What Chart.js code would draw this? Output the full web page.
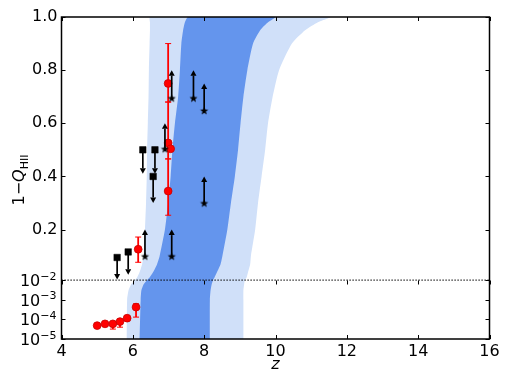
<!DOCTYPE html>
<html>
<head>
<meta charset="utf-8">
<script src="https://cdn.jsdelivr.net/npm/chart.js@4.4.0/dist/chart.umd.min.js"></script>
<style>
  html, body { margin: 0; padding: 0; background: #fff; }
  canvas { display: block; }
</style>
</head>
<body>
<canvas id="reionChart" width="505" height="372"></canvas>
<script>
// 1-Q levels at which the band edges were read, and the z of each edge there
const qLevels    = [1e-5, 1e-3, 0.003, 0.006, 0.01, 0.02, 0.04, 0.07, 0.1, 0.2, 0.3, 0.4, 0.5, 0.6, 0.7, 0.8, 0.9, 0.95, 0.98, 1.0];
const outerLeft  = [5.83, 5.84, 5.88, 5.95, 6.06, 6.12, 6.19, 6.26, 6.30, 6.34, 6.37, 6.39, 6.40, 6.42, 6.44, 6.45, 6.47, 6.48, 6.48, 6.48];
const outerRight = [9.10, 9.10, 9.10, 9.12, 9.14, 9.19, 9.23, 9.29, 9.31, 9.43, 9.51, 9.61, 9.71, 9.79, 9.92, 10.10, 10.46, 10.83, 11.19, 11.53];
const innerLeft  = [6.19, 6.22, 6.24, 6.30, 6.40, 6.47, 6.57, 6.68, 6.75, 6.90, 6.99, 7.06, 7.11, 7.18, 7.27, 7.32, 7.36, 7.41, 7.46, 7.55];
const innerRight = [8.16, 8.16, 8.18, 8.21, 8.25, 8.29, 8.36, 8.46, 8.51, 8.65, 8.75, 8.86, 8.95, 9.02, 9.10, 9.21, 9.37, 9.57, 9.79, 9.99];

// measurements with error bars (red)
const measZ  = [5.00, 5.22, 5.44, 5.64, 5.84, 6.09, 6.15, 6.99, 6.99, 7.06, 6.99];
const measQ  = [4.8e-5, 5.9e-5, 5.9e-5, 7.7e-5, 1.15e-4, 4.2e-4, 0.126, 0.75, 0.526, 0.504, 0.345];
const measLo = [null, null, 3.2e-5, 4.0e-5, null, 1.3e-4, 0.077, 0.68, 0.466, null, 0.254];
const measHi = [null, null, 7.0e-5, 1.0e-4, null, 6.2e-4, 0.172, 0.90, 0.68, null, 0.466];

// upper limits (squares, arrow down)
const upperZ  = [5.56, 5.87, 6.28, 6.62, 6.57];
const upperQ  = [0.095, 0.116, 0.50, 0.50, 0.40];
const upperTo = [0.012, 0.03, 0.41, 0.41, 0.30];

// lower limits (stars, arrow up)
const lowerZ  = [6.34, 6.90, 7.09, 7.70, 8.00, 8.00, 7.09];
const lowerQ  = [0.10, 0.504, 0.695, 0.695, 0.648, 0.30, 0.10];
const lowerTo = [0.20, 0.60, 0.80, 0.80, 0.75, 0.40, 0.20];

const xTicks = [4, 6, 8, 10, 12, 14, 16];
const yTickVals   = [1e-5, 1e-4, 1e-3, 1e-2, 0.2, 0.4, 0.6, 0.8, 1.0];
const yTickLabels = ['10^−5', '10^−4', '10^−3', '10^−2', '0.2', '0.4', '0.6', '0.8', '1.0'];

// y axis: linear above 1e-2, log below (one decade = DEC linear units)
const DEC = 0.0739;
function splitValue(v) {
    return v >= 0.01 ? v : 0.01 + (Math.log10(v) + 2) * DEC;
}
class SplitScale extends Chart.LinearScale {
    getPixelForValue(v) {
        return super.getPixelForValue(splitValue(v));
    }
}
SplitScale.id = 'split';
SplitScale.defaults = {};
Chart.register(SplitScale);

function band(left, right) {
    const pts = left.map((z, i) => ({ x: z, y: qLevels[i] }));
    for (let i = right.length - 1; i >= 0; i--) pts.push({ x: right[i], y: qLevels[i] });
    return pts;
}

function makeStar(r) {
    const s = Math.ceil(r * 2) + 2;
    const c = document.createElement('canvas');
    c.width = s; c.height = s;
    const g = c.getContext('2d');
    g.fillStyle = '#000';
    g.beginPath();
    for (let i = 0; i < 10; i++) {
        const rad = i % 2 ? r * 0.42 : r;
        const a = -Math.PI / 2 + i * Math.PI / 5;
        g.lineTo(s / 2 + rad * Math.cos(a), s / 2 + 0.5 + rad * Math.sin(a));
    }
    g.closePath();
    g.fill();
    return c;
}

function arrow(ctx, x, y0, y1) {
    const dir = Math.sign(y1 - y0), head = 5.5, half = 3;
    ctx.beginPath();
    ctx.moveTo(x, y0);
    ctx.lineTo(x, y1 - dir * head);
    ctx.stroke();
    ctx.beginPath();
    ctx.moveTo(x, y1);
    ctx.lineTo(x - half, y1 - dir * head);
    ctx.lineTo(x + half, y1 - dir * head);
    ctx.closePath();
    ctx.fill();
}

const extras = {
    id: 'extras',
    beforeDatasetDraw(chart, args) {
        const ctx = chart.ctx, xs = chart.scales.x, ys = chart.scales.y;
        ctx.save();
        if (args.index === 3) {
            ctx.strokeStyle = '#ff0000';
            measZ.forEach((z, i) => {
                if (measLo[i] === null) return;
                const px = xs.getPixelForValue(z);
                const lo = ys.getPixelForValue(measLo[i]), hi = ys.getPixelForValue(measHi[i]);
                ctx.lineWidth = 1.8;
                ctx.beginPath(); ctx.moveTo(px, lo); ctx.lineTo(px, hi); ctx.stroke();
                ctx.lineWidth = 1;
                ctx.beginPath();
                ctx.moveTo(px - 3, lo); ctx.lineTo(px + 3, lo);
                ctx.moveTo(px - 3, hi); ctx.lineTo(px + 3, hi);
                ctx.stroke();
            });
        }
        if (args.index === 4 || args.index === 5) {
            ctx.strokeStyle = '#000';
            ctx.fillStyle = '#000';
            ctx.lineWidth = 1.7;
            const zz = args.index === 4 ? upperZ : lowerZ;
            const qq = args.index === 4 ? upperQ : lowerQ;
            const to = args.index === 4 ? upperTo : lowerTo;
            zz.forEach((z, i) => {
                arrow(ctx, xs.getPixelForValue(z), ys.getPixelForValue(qq[i]), ys.getPixelForValue(to[i]));
            });
        }
        ctx.restore();
    },
    afterDatasetsDraw(chart) {
        const ctx = chart.ctx, xs = chart.scales.x, ys = chart.scales.y;
        const { left, right, top, bottom } = chart.chartArea;
        const yb = Math.round(ys.getPixelForValue(0.01)) + 0.5;
        ctx.save();
        ctx.strokeStyle = '#000';
        ctx.lineWidth = 1;
        ctx.beginPath();
        xs.ticks.forEach(t => {
            const px = Math.round(xs.getPixelForValue(t.value)) + 0.5;
            ctx.moveTo(px, bottom); ctx.lineTo(px, bottom - 4);
            ctx.moveTo(px, top); ctx.lineTo(px, top + 4);
            ctx.moveTo(px, yb); ctx.lineTo(px, yb + 4);
        });
        ys.ticks.forEach(t => {
            const py = Math.round(ys.getPixelForValue(t.value)) + 0.5;
            ctx.moveTo(left, py); ctx.lineTo(left + 4, py);
            ctx.moveTo(right, py); ctx.lineTo(right - 4, py);
        });
        ctx.stroke();
        ctx.lineWidth = 1.5;
        ctx.strokeRect(left, top, right - left, bottom - top);
        ctx.restore();
    },
    afterDraw(chart) {
        const ctx = chart.ctx, ys = chart.scales.y;
        const { left, right, top, bottom } = chart.chartArea;
        ctx.save();
        ctx.fillStyle = '#000';
        ctx.textBaseline = 'alphabetic';

        // power-of-ten labels of the log part: base plus raised exponent
        ctx.textAlign = 'left';
        yTickLabels.forEach((lab, i) => {
            if (lab.indexOf('^') < 0) return;
            const [base, exp] = lab.split('^');
            const py = ys.getPixelForValue(yTickVals[i]);
            ctx.font = '11px "DejaVu Sans"';
            const w2 = ctx.measureText(exp).width;
            ctx.font = '16px "DejaVu Sans"';
            const w1 = ctx.measureText(base).width;
            const xEnd = left - 5;
            ctx.fillText(base, xEnd - w2 - w1, py + 6);
            ctx.font = '11px "DejaVu Sans"';
            ctx.fillText(exp, xEnd - w2, py - 0.5);
        });

        ctx.font = 'italic 16px "DejaVu Sans"';
        ctx.textAlign = 'center';
        ctx.fillText('z', (left + right) / 2, 369);

        // 1−Q_HII, rotated
        const parts = [
            { t: '1\u2212', f: '16px "DejaVu Sans"', dy: 0 },
            { t: 'Q', f: 'italic 16px "DejaVu Sans"', dy: 0 },
            { t: 'HII', f: '11px "DejaVu Sans"', dy: 3.5 }
        ];
        let w = 0;
        parts.forEach(p => { ctx.font = p.f; p.w = ctx.measureText(p.t).width; w += p.w; });
        ctx.translate(24, (top + bottom) / 2 + 2);
        ctx.rotate(-Math.PI / 2);
        ctx.textAlign = 'left';
        let x = -w / 2;
        parts.forEach(p => { ctx.font = p.f; ctx.fillText(p.t, x, p.dy); x += p.w; });
        ctx.restore();
    }
};

Chart.defaults.font.family = '"DejaVu Sans"';
Chart.defaults.font.size = 16;
Chart.defaults.color = '#000';

const ctx = document.getElementById('reionChart').getContext('2d');
new Chart(ctx, {
    type: 'scatter',
    data: {
        datasets: [
            {
                data: band(outerLeft, outerRight),
                showLine: true, fill: 'shape', tension: 0.2,
                backgroundColor: '#d0e0f9', borderWidth: 0, pointRadius: 0,
                order: 6
            },
            {
                data: band(innerLeft, innerRight),
                showLine: true, fill: 'shape', tension: 0.2,
                backgroundColor: '#6495ed', borderWidth: 0, pointRadius: 0,
                order: 5
            },
            {
                data: [{ x: 4, y: 0.01 }, { x: 16, y: 0.01 }],
                showLine: true, borderColor: '#000', borderWidth: 1.2, borderDash: [1.2, 1.8],
                pointRadius: 0, fill: false,
                order: 4
            },
            {
                data: measZ.map((z, i) => ({ x: z, y: measQ[i] })),
                pointStyle: 'circle', pointRadius: 3.9,
                backgroundColor: '#ff0000', borderColor: '#c80000', borderWidth: 0.8,
                order: 3
            },
            {
                data: upperZ.map((z, i) => ({ x: z, y: upperQ[i] })),
                pointStyle: 'rect', pointRadius: 4.6,
                backgroundColor: '#000', borderColor: '#000', borderWidth: 0.5,
                order: 2
            },
            {
                data: lowerZ.map((z, i) => ({ x: z, y: lowerQ[i] })),
                pointStyle: makeStar(4.3), pointRadius: 4,
                order: 1
            }
        ]
    },
    options: {
        responsive: false,
        animation: false,
        layout: { padding: { top: 17, right: 15.5, left: 0, bottom: 0 } },
        plugins: { legend: { display: false }, tooltip: { enabled: false } },
        scales: {
            x: {
                type: 'linear', min: 4, max: 16,
                afterBuildTicks: s => { s.ticks = xTicks.map(v => ({ value: v })); },
                afterFit: s => { s.height = 33; },
                grid: { display: false, drawTicks: false },
                border: { display: false },
                ticks: { padding: 3, maxRotation: 0, autoSkip: false }
            },
            y: {
                type: 'split', min: splitValue(1e-5), max: 1.0,
                afterBuildTicks: s => { s.ticks = yTickVals.map(v => ({ value: v })); },
                afterFit: s => { s.width = 61.5; },
                grid: { display: false, drawTicks: false },
                border: { display: false },
                ticks: {
                    padding: 4, autoSkip: false,
                    callback: (v, i) => (yTickLabels[i].indexOf('^') < 0 ? yTickLabels[i] : '')
                }
            }
        }
    },
    plugins: [extras]
});
</script>
</body>
</html>
